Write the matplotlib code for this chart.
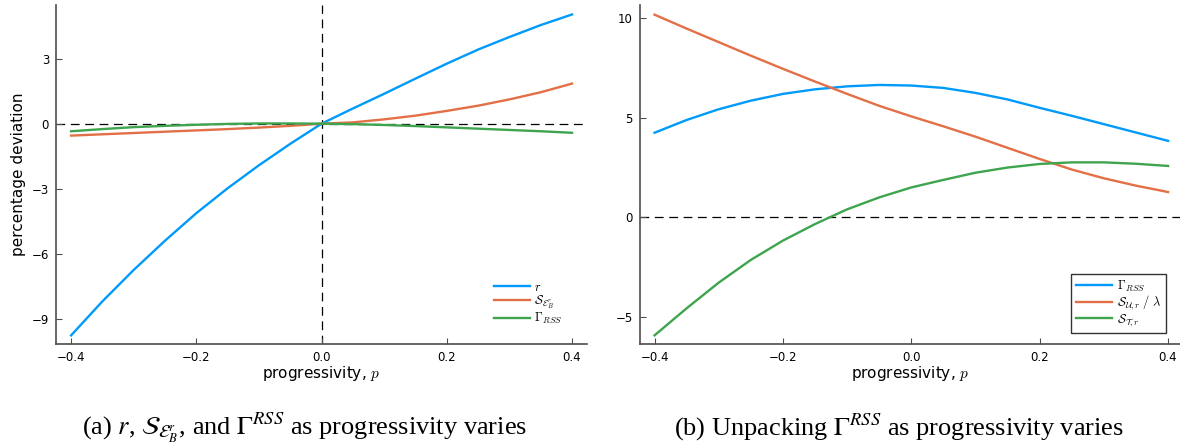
#!/usr/bin/env python
"""

Progressivity experiments: deviations of r, S and Gamma

"""
import matplotlib
matplotlib.use('Agg')
import matplotlib.pyplot as plt

# progressivity grid
p = [-0.4, -0.35, -0.3, -0.25, -0.2, -0.15, -0.1, -0.05, 0.0,
     0.05, 0.1, 0.15, 0.2, 0.25, 0.3, 0.35, 0.4]

# panel (a)
r_dev = [-9.77, -8.2, -6.75, -5.4, -4.13, -2.98, -1.92, -0.93, 0.0,
         0.7, 1.38, 2.08, 2.77, 3.42, 4.0, 4.55, 5.04]
s_eb_dev = [-0.55, -0.49, -0.43, -0.37, -0.31, -0.25, -0.18, -0.1, 0.0,
            0.06, 0.2, 0.37, 0.59, 0.83, 1.12, 1.45, 1.85]
gamma_a = [-0.35, -0.25, -0.16, -0.1, -0.05, -0.01, 0.01, 0.01, 0.0,
           -0.02, -0.06, -0.11, -0.17, -0.23, -0.29, -0.35, -0.42]

# panel (b)
gamma_b = [4.25, 4.89, 5.43, 5.86, 6.2, 6.43, 6.58, 6.65, 6.62,
           6.5, 6.25, 5.92, 5.5, 5.1, 4.68, 4.26, 3.84]
s_u_dev = [10.18, 9.48, 8.8, 8.12, 7.46, 6.82, 6.2, 5.6, 5.07,
           4.57, 4.05, 3.49, 2.93, 2.4, 1.96, 1.59, 1.27]
s_t_dev = [-5.93, -4.57, -3.28, -2.14, -1.17, -0.34, 0.4, 1.0, 1.5,
           1.88, 2.24, 2.5, 2.68, 2.76, 2.76, 2.69, 2.58]

colors = ['#009AFA', '#E36F47', '#3EA44E']
spine_col = '#4d4d4d'

plt.rcParams['mathtext.fontset'] = 'cm'
plt.rcParams['font.family'] = 'DejaVu Sans'

fig = plt.figure(figsize=(11.8, 4.48), dpi=100)
ax1 = fig.add_axes([0.0475, 0.2315, 0.45, 0.7575])
ax2 = fig.add_axes([0.542, 0.2315, 0.458, 0.7575])


def style(ax):
  ax.spines['top'].set_visible(False)
  ax.spines['right'].set_visible(False)
  for s in ['left', 'bottom']:
    ax.spines[s].set_color(spine_col)
    ax.spines[s].set_linewidth(1.2)
  ax.tick_params(direction='in', length=4, width=0.8, color=spine_col,
                 labelsize=8.5, pad=5)
  ax.set_xticks([-0.4, -0.2, 0.0, 0.2, 0.4])
  ax.set_xticklabels(['\u22120.4', '\u22120.2', '0.0', '0.2', '0.4'])
  ax.set_xlabel('progressivity, $p$', fontsize=11, labelpad=0)


lw = 1.7
dash = (0, (7, 4.5))

# (a)
ax1.axhline(0, color='black', lw=0.9, ls=dash, zorder=1)
ax1.axvline(0, color='black', lw=0.9, ls=dash, zorder=1)
ax1.plot(p, r_dev, color=colors[0], lw=lw, label='$r$')
ax1.plot(p, s_eb_dev, color=colors[1], lw=lw, label=r'$\mathcal{S}_{\mathcal{E}^r_B}$')
ax1.plot(p, gamma_a, color=colors[2], lw=lw, label=r'$\Gamma_{RSS}$')
ax1.set_xlim(-0.424, 0.424)
ax1.set_ylim(-10.18, 5.48)
ax1.set_yticks([-9, -6, -3, 0, 3])
ax1.set_yticklabels(['\u22129', '\u22126', '\u22123', '0', '3'])
ax1.set_ylabel('percentage deviation', fontsize=11, labelpad=4)
style(ax1)
ax1.legend(loc='lower right', bbox_to_anchor=(0.975, 0.02), frameon=False,
           fontsize=9, handlelength=2.9, labelspacing=0.0, handletextpad=0.35)

# (b)
ax2.axhline(0, color='black', lw=0.9, ls=dash, zorder=1)
ax2.plot(p, gamma_b, color=colors[0], lw=lw, label=r'$\Gamma_{RSS}$')
ax2.plot(p, s_u_dev, color=colors[1], lw=lw, label=r'$\mathcal{S}_{\mathcal{U},r}\ /\ \lambda$')
ax2.plot(p, s_t_dev, color=colors[2], lw=lw, label=r'$\mathcal{S}_{\mathcal{T},r}$')
ax2.set_xlim(-0.4234, 0.4186)
ax2.set_ylim(-6.38, 10.67)
ax2.set_yticks([-5, 0, 5, 10])
ax2.set_yticklabels(['\u22125', '0', '5', '10'])
style(ax2)
leg = ax2.legend(loc='lower right', bbox_to_anchor=(0.974, 0.033), frameon=True,
                 fancybox=False, fontsize=9, handlelength=2.9, labelspacing=0.0,
                 handletextpad=0.4, borderpad=0.35, borderaxespad=0.0)
leg.get_frame().set_edgecolor('black')
leg.get_frame().set_linewidth(1.0)

# captions
fig.text(0.258, 0.045, r'(a) $r$, $\mathcal{S}_{\mathcal{E}^r_B}$, and $\Gamma^{RSS}$ as progressivity varies',
         ha='center', va='center', fontsize=19, family='Liberation Serif', math_fontfamily='stix')
fig.text(0.762, 0.045, r'(b) Unpacking $\Gamma^{RSS}$ as progressivity varies',
         ha='center', va='center', fontsize=19, family='Liberation Serif', math_fontfamily='stix')

plt.savefig('out.png', dpi=100)
